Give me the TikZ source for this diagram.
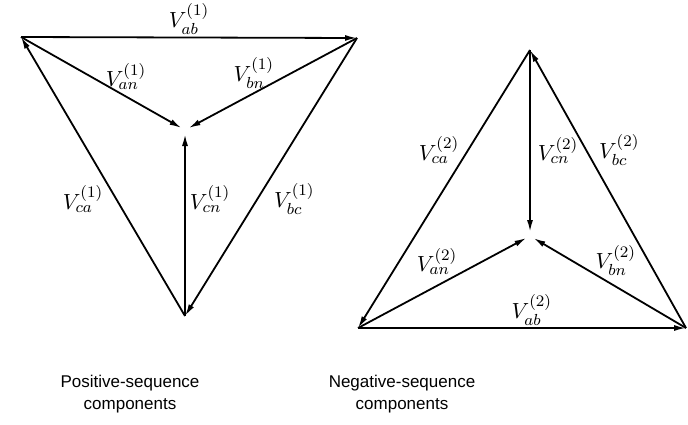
\documentclass[tikz,border=0pt]{standalone}
\usepackage{amsmath}
\usepackage{fontspec}
\usepackage{tikz}
\usetikzlibrary{arrows.meta}
\newfontfamily\capfont{Liberation Sans}
\tikzset{
  arr/.style={-{Latex[length=6pt,width=3pt]},line width=0.9pt},
  lbl/.style={font=\fontsize{11}{13}\selectfont,inner sep=1pt},
  captxt/.style={font=\capfont\fontsize{8.5}{11}\selectfont,align=center},
}

\begin{document}
\begin{tikzpicture}[x=0.5pt,y=-0.5pt]
\useasboundingbox (0,0) rectangle (688,424);
% positive sequence
\coordinate (a1) at (21,37);
\coordinate (b1) at (357,38);
\coordinate (c1) at (185,316);
\coordinate (n1) at (185,130);
\draw[arr] (a1) -- node[lbl,above] (vab1) {$V_{ab}^{(1)}$} (b1);
\draw[arr] (b1) -- node[lbl,pos=0.58,right=7pt] (vbc1) {$V_{bc}^{(1)}$} (c1);
\draw[arr] (c1) -- node[lbl,pos=0.42,left=5pt] (vca1) {$V_{ca}^{(1)}$} (a1);
\draw[arr,shorten >=2pt] (a1) -- node[lbl,pos=0.64,above=2pt] (van1) {$V_{an}^{(1)}$} (n1);
\draw[arr,shorten >=2pt] (b1) -- node[lbl,pos=0.6,above=1pt] (vbn1) {$V_{bn}^{(1)}$} (n1);
\draw[arr,shorten >=2pt] (c1) -- node[lbl,pos=0.63,right=1pt] (vcn1) {$V_{cn}^{(1)}$} (n1);
% negative sequence
\coordinate (a2) at (358,328);
\coordinate (b2) at (686,328);
\coordinate (c2) at (530,50);
\coordinate (n2) at (530,236);
\draw[arr] (a2) -- node[lbl,pos=0.53,above] (vab2) {$V_{ab}^{(2)}$} (b2);
\draw[arr] (b2) -- node[lbl,pos=0.64,right=5pt] (vbc2) {$V_{bc}^{(2)}$} (c2);
\draw[arr] (c2) -- node[lbl,pos=0.36,left=3pt] (vca2) {$V_{ca}^{(2)}$} (a2);
\draw[arr,shorten >=2pt] (a2) -- node[lbl,pos=0.46,above=4pt] (van2) {$V_{an}^{(2)}$} (n2);
\draw[arr,shorten >=2pt] (b2) -- node[lbl,pos=0.45,above=4pt] (vbn2) {$V_{bn}^{(2)}$} (n2);
\draw[arr,shorten >=2pt] (c2) -- node[lbl,pos=0.54,right=2.5pt] (vcn2) {$V_{cn}^{(2)}$} (n2);
% captions
\node[captxt] (pos) at (130,394) {Positive-sequence\\components};
\node[captxt] (neg) at (402,394) {Negative-sequence\\components};
\end{tikzpicture}
\end{document}
